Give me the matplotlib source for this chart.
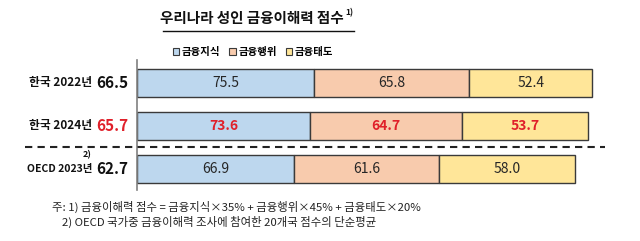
import matplotlib

matplotlib.use("Agg")
import matplotlib.pyplot as plt
from matplotlib.lines import Line2D
from matplotlib.patches import Patch

plt.rcParams["font.family"] = ["Noto Sans CJK KR", "DejaVu Sans"]

groups = ["한국 2022년", "한국 2024년", "OECD 2023년"]
totals = ["66.5", "65.7", "62.7"]
knowledge = [75.5, 73.6, 66.9]
behaviour = [65.8, 64.7, 61.6]
attitude = [52.4, 53.7, 58.0]
series_names = ["금융지식", "금융행위", "금융태도"]
colors = ["#BDD7EE", "#F8CBAD", "#FFE699"]
highlight = [False, True, False]
RED = "#E0202A"

fig = plt.figure(figsize=(6.4, 2.41), dpi=100)
W, H = 640, 241
ax = fig.add_axes([137 / W, 1 - 190 / H, (W - 137) / W, 130 / H])

ys = range(len(groups))
left = [0.0] * len(groups)
for vals, col in zip([knowledge, behaviour, attitude], colors):
    ax.barh(ys, vals, left=left, height=0.65, color=col, edgecolor="#3A3A3A", lw=1.0)
    for y, v, l, hi in zip(ys, vals, left, highlight):
        ax.text(l + v / 2, y, f"{v:.1f}", ha="center", va="center", fontsize=10,
                color=RED if hi else "#262626", fontweight="bold" if hi else "normal")
    left = [l + v for l, v in zip(left, vals)]

ax.set_xlim(0, (W - 137) / 2.35)
ax.set_ylim(2.49, -0.535)
for s in ["top", "right", "bottom"]:
    ax.spines[s].set_visible(False)
ax.spines["left"].set_color("#808080")
ax.spines["left"].set_linewidth(1.2)
ax.set_xticks([])
ax.set_yticks([])

# row labels left of the axis
for y, g, t, hi in zip(ys, groups, totals, highlight):
    small = g.startswith("OECD")
    ax.annotate(g, (0, y), xycoords=("axes fraction", "data"), xytext=(-45, 0),
                textcoords="offset pixels", ha="right", va="center",
                fontsize=7.5 if small else 8.5, fontweight="bold", color="#111111")
    ax.annotate(t, (0, y), xycoords=("axes fraction", "data"), xytext=(-9, 0),
                textcoords="offset pixels", ha="right", va="center",
                fontsize=11, fontweight="semibold", color=RED if hi else "#111111")
ax.annotate("2)", (0, 2), xycoords=("axes fraction", "data"), xytext=(-50, 14),
            textcoords="offset pixels", ha="center", va="center",
            fontsize=6.5, fontweight="bold", color="#111111")

# dashed separator between Korea and OECD
fig.add_artist(Line2D([25 / W, 605 / W], [1 - 147 / H] * 2, color="#222222",
                      lw=1.5, ls=(0, (3.5, 2.5))))

# title
fig.text(344 / W, 1 - 18 / H, "우리나라 성인 금융이해력 점수", ha="right", va="center",
         fontsize=10.5, fontweight="bold", color="#111111")
fig.text(345 / W, 1 - 13 / H, "1)", ha="left", va="center", fontsize=6,
         fontweight="bold", color="#111111")
fig.add_artist(Line2D([163 / W, 354 / W], [1 - 31 / H] * 2, color="#111111", lw=1.0))

# legend
handles = [Patch(facecolor=c, edgecolor="#3A3A3A", lw=0.8) for c in colors]
fig.legend(handles, series_names, loc="center", bbox_to_anchor=(253 / W, 1 - 52 / H),
           ncol=3, frameon=False, prop={"weight": "bold", "size": 7.5},
           handlelength=0.6, handleheight=0.6, handletextpad=0.25, columnspacing=0.9)

# footnotes
fig.text(52 / W, 1 - 207 / H, "주: 1) 금융이해력 점수 = 금융지식×35% + 금융행위×45% + 금융태도×20%",
         ha="left", va="center", fontsize=8.2, color="#222222")
fig.text(62 / W, 1 - 222 / H, "2) OECD 국가중 금융이해력 조사에 참여한 20개국 점수의 단순평균",
         ha="left", va="center", fontsize=8.2, color="#222222")

fig.savefig("out.png", dpi=100)
